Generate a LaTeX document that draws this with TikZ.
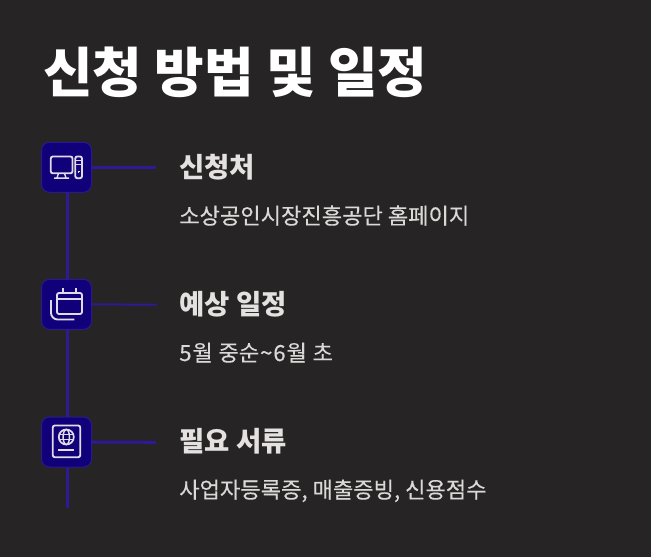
\documentclass[tikz,border=0pt]{standalone}
\usepackage{fontspec}
\setmainfont{Noto Sans CJK KR}
\newfontfamily\subf[FakeBold=0.25]{Noto Sans CJK KR}
\definecolor{bgc}{HTML}{262425}
\definecolor{boxc}{HTML}{10007A}
\definecolor{boxb}{HTML}{2A1A8C}
\definecolor{linec}{HTML}{2E1A94}
\definecolor{iconc}{HTML}{E0DBE4}
\definecolor{headc}{HTML}{E6E1E1}
\definecolor{subc}{HTML}{DDD8D8}
\tikzset{
  x=0.75pt,y=-0.75pt,
  titlet/.style={anchor=base west,inner sep=0pt,text=white,font=\fontsize{40.4}{48}\selectfont\bfseries},
  headt/.style={anchor=base west,inner sep=0pt,text=headc,font=\fontsize{20.6}{24}\selectfont\bfseries},
  subt/.style={anchor=base west,inner sep=0pt,text=subc,font=\subf\fontsize{16.6}{20}\selectfont},
  iconbox/.style={draw=boxb,fill=boxc,line width=0.75pt,rounded corners=6pt,minimum size=37.5pt,inner sep=0pt},
  conn/.style={draw=linec,line width=2.25pt},
  connthin/.style={draw=linec,line width=1.5pt},
  icon/.style={draw=iconc,line width=1.4pt,rounded corners=1.5pt},
  iconfine/.style={draw=iconc,line width=1.1pt},
}
\begin{document}
\begin{tikzpicture}
\useasboundingbox[fill=bgc] (0,0) rectangle (651,557);
\node[titlet] (title) at (43,92) {신청 방법 및 일정};
% connectors
\coordinate (e1) at (156,167.3);
\coordinate (e2) at (157,304.7);
\coordinate (e3) at (156,442.3);
\coordinate (e4) at (67.5,508);
\node[iconbox] (b1) at (66.5,167.3) {};
\node[iconbox] (b2) at (66.5,304.3) {};
\node[iconbox] (b3) at (66.5,442) {};
\draw[conn] (b1.east) -- (e1);
\draw[connthin] (b2.east) -- (e2);
\draw[conn] (b3.east) -- (e3);
\draw[conn] (b1.south -| e4) -- (b2.north -| e4);
\draw[conn] (b2.south -| e4) -- (b3.north -| e4);
\draw[conn] (b3.south -| e4) -- (e4);
% icon 1
\draw[icon] (50.8,156.5) rectangle (72.5,173.3);
\draw[iconfine] (58.5,173.3) -- (57,178) (64.5,173.3) -- (66,178) (54,178.2) -- (69,178.2);
\draw[icon] (75.3,156.5) rectangle (82,178.2);
\draw[iconfine] (75.3,160.7) -- (82,160.7) (75.3,164.7) -- (82,164.7) (77.7,171.5) -- (79.7,171.5) (78.7,170.5) -- (78.7,172.5);
% icon 2
\draw[icon] (57,293) rectangle (82,314);
\draw[iconfine] (57,299) -- (82,299);
\draw[iconfine,line width=1.3pt] (63.3,288.3) -- (63.3,293) (75.7,288.3) -- (75.7,293);
\draw[icon,rounded corners=5pt] (51,300) -- (51,319.5) -- (74.3,319.5);
% icon 3
\draw[icon] (52.8,425.5) rectangle (80.2,457.2);
\draw[iconfine,line width=1.3pt] (66.3,437) circle [radius=7.5];
\draw[iconfine] (66.3,437) ellipse [x radius=3.2,y radius=7.5];
\draw[iconfine] (59.3,434.5) -- (73.3,434.5) (59.3,439.5) -- (73.3,439.5);
\draw[icon] (58.3,450.3) -- (74.3,450.3);
% text
\node[headt] (h1) at (179,177) {신청처};
\node[subt] (s1) at (179,224) {소상공인시장진흥공단 홈페이지};
\node[headt] (h2) at (179,314) {예상 일정};
\node[subt] (s2) at (179,361) {5\kern0.7pt 월\kern0.5pt{} 중순\kern0.7pt\char`~\kern0.7pt 6\kern0.7pt 월\kern0.5pt{} 초};
\node[headt] (h3) at (179,451) {필요 서류};
\node[subt] (s3) at (179,498) {사업자등록증, 매출증빙, 신용점수};
\end{tikzpicture}
\end{document}
